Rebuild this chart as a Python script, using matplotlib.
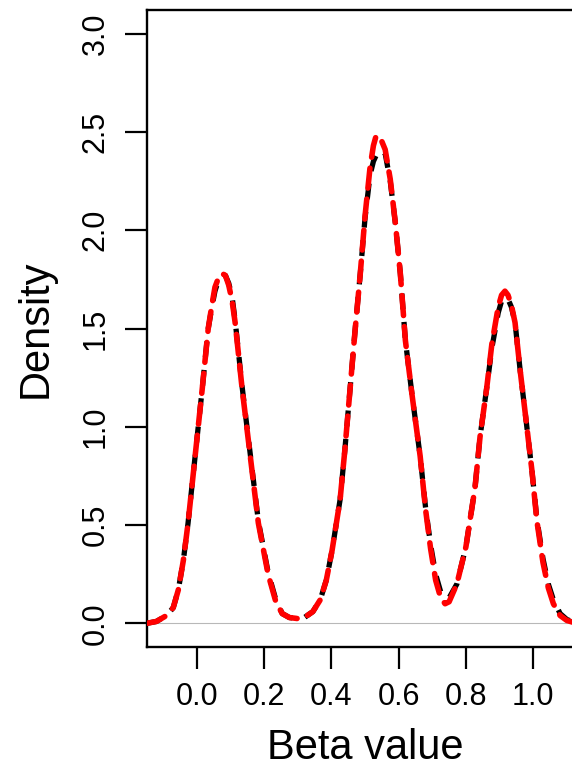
import numpy as np
import matplotlib
matplotlib.use("Agg")
import matplotlib.pyplot as plt

plt.rcParams['font.family'] = ['Liberation Sans', 'DejaVu Sans']

# density estimates (beta value -> density)
beta_x = [-0.15, -0.12, -0.09, -0.07, -0.055, -0.04, -0.026, -0.005, 0.016, 0.034,
          0.045, 0.054, 0.065, 0.075, 0.085, 0.095, 0.105, 0.114, 0.135, 0.159,
          0.183, 0.212, 0.235, 0.254, 0.275, 0.298, 0.32, 0.345, 0.367, 0.385,
          0.402, 0.426, 0.44, 0.453, 0.47, 0.486, 0.50, 0.515, 0.525, 0.533,
          0.54, 0.548, 0.56, 0.575, 0.59, 0.605, 0.62, 0.64, 0.664, 0.68,
          0.695, 0.71, 0.725, 0.738, 0.75, 0.773, 0.80, 0.827, 0.842, 0.862,
          0.877, 0.896, 0.906, 0.916, 0.925, 0.935, 0.946, 0.961, 0.979, 0.996,
          1.011, 1.029, 1.045, 1.06, 1.08, 1.10, 1.13, 1.15]

red_density = [0.0, 0.01, 0.04, 0.08, 0.17, 0.32, 0.51, 0.85, 1.19, 1.50,
               1.62, 1.71, 1.76, 1.78, 1.77, 1.72, 1.64, 1.53, 1.19, 0.85,
               0.51, 0.25, 0.11, 0.05, 0.03, 0.025, 0.03, 0.06, 0.12, 0.22,
               0.37, 0.63, 0.88, 1.14, 1.48, 1.78, 2.07, 2.32, 2.43, 2.48,
               2.48, 2.46, 2.41, 2.26, 2.04, 1.78, 1.44, 1.16, 0.85, 0.58,
               0.38, 0.22, 0.13, 0.10, 0.11, 0.20, 0.39, 0.69, 0.95, 1.20,
               1.42, 1.61, 1.67, 1.69, 1.67, 1.62, 1.53, 1.29, 1.03, 0.78,
               0.52, 0.31, 0.18, 0.10, 0.04, 0.015, 0.0, 0.0]

black_density = [0.0, 0.01, 0.04, 0.08, 0.17, 0.32, 0.51, 0.85, 1.19, 1.50,
                 1.61, 1.69, 1.75, 1.77, 1.77, 1.73, 1.66, 1.54, 1.20, 0.86,
                 0.52, 0.26, 0.12, 0.05, 0.03, 0.025, 0.03, 0.06, 0.12, 0.22,
                 0.37, 0.63, 0.88, 1.14, 1.48, 1.78, 2.06, 2.28, 2.35, 2.38,
                 2.40, 2.41, 2.39, 2.25, 2.04, 1.78, 1.44, 1.16, 0.85, 0.59,
                 0.40, 0.25, 0.16, 0.13, 0.13, 0.20, 0.39, 0.69, 0.95, 1.20,
                 1.40, 1.58, 1.64, 1.66, 1.65, 1.61, 1.53, 1.29, 1.03, 0.78,
                 0.53, 0.33, 0.20, 0.12, 0.05, 0.02, 0.0, 0.0]

x_ticks = [0.0, 0.2, 0.4, 0.6, 0.8, 1.0]
y_ticks = [0.0, 0.5, 1.0, 1.5, 2.0, 2.5, 3.0]

fig = plt.figure(figsize=(5.72, 7.67), dpi=100)
ax = fig.add_axes([147 / 572, 1 - 647 / 767, (583 - 147) / 572, (647 - 10) / 767])

ax.axhline(0, color='#b8b8b8', lw=0.8, zorder=1)

black_line, = ax.plot(beta_x, black_density, color='black', lw=3.8, zorder=2,
                      dash_capstyle='butt', dash_joinstyle='round')
black_line.set_dashes((3.0, 2.4))
red_line, = ax.plot(beta_x, red_density, color='#ff0000', lw=4.0, zorder=3,
                    dash_capstyle='round', dash_joinstyle='round')
red_line.set_dashes((3.6, 2.0))

ax.set_xlim(-0.148, 1.148)
ax.set_ylim(-0.12, 3.12)

ax.set_xticks(x_ticks)
ax.set_xticklabels([f'{v:.1f}' for v in x_ticks])
ax.set_yticks(y_ticks)
ax.set_yticklabels([f'{v:.1f}' for v in y_ticks], rotation=90, va='center')

ax.tick_params(axis='both', direction='out', length=16, width=1.6,
               labelsize=22, colors='black')
ax.tick_params(axis='x', pad=9)
ax.tick_params(axis='y', pad=10)

for side in ax.spines.values():
    side.set_linewidth(1.7)

ax.set_xlabel('Beta value', fontsize=30, labelpad=12)
ax.set_ylabel('Density', fontsize=30, labelpad=18)

fig.savefig('out.png', dpi=100, facecolor='white')
